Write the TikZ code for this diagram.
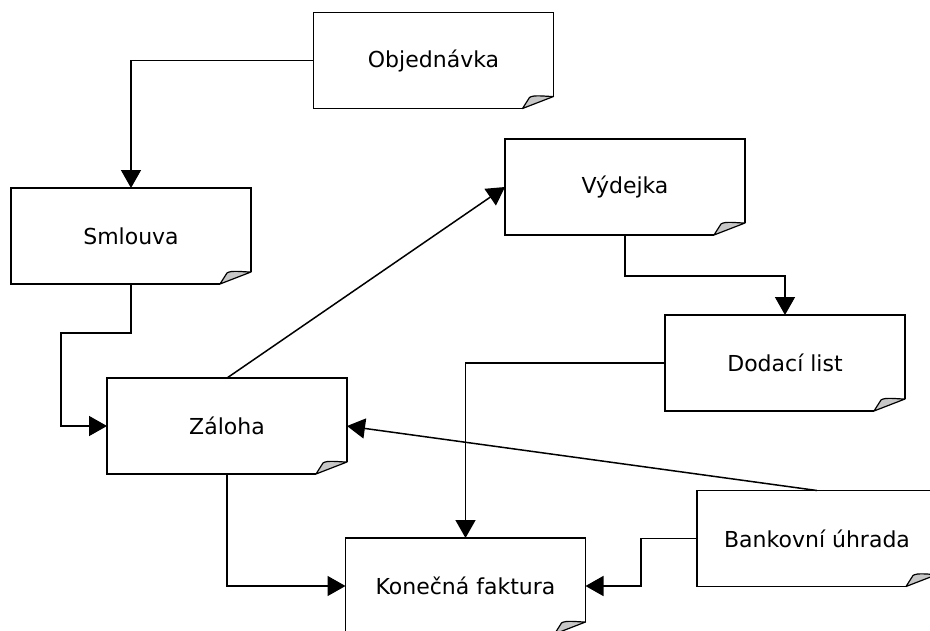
\documentclass[tikz,border=0pt]{standalone}
\usepackage{fontspec}
\setmainfont{DejaVu Sans}
\usetikzlibrary{calc,arrows.meta}
\tikzset{
  doc/.style={minimum width=240pt, minimum height=96pt, inner sep=0pt, outer sep=0pt,
    font=\fontsize{22}{26}\selectfont},
  outline/.style={line width=1.6pt, line join=miter},
  foldfill/.style={fill=black!22, draw=black, line width=1.2pt, line join=round},
  conn/.style={line width=1.5pt, -{Triangle[length=18pt,width=20pt]}},
}
\newcommand{\docoutline}[1]{%
  \draw[outline] ($(#1.south east)+(0,-12)$) -- (#1.north east) -- (#1.north west)
    -- (#1.south west) -- ($(#1.south east)+(-31,0)$);
  \draw[foldfill] ($(#1.south east)+(-31,0)$) -- ($(#1.south east)+(-24,-11)$)
    .. controls ($(#1.south east)+(-20,-14)$) and ($(#1.south east)+(-8,-12)$) ..
    ($(#1.south east)+(0,-12)$) -- cycle;
}
\begin{document}
\begin{tikzpicture}[x=1pt,y=-1pt]
  \fill[white] (0,0) rectangle (930,630);
  \useasboundingbox (0,0) rectangle (930,630);
  \clip (0,0) rectangle (930,630);

  \node[doc] (obj) at (433.5,60.5) {Objednávka};
  \node[doc] (sml) at (131,236) {Smlouva};
  \node[doc] (vyd) at (625,187) {Výdejka};
  \node[doc] (dod) at (785,363) {Dodací list};
  \node[doc] (zal) at (227,426) {Záloha};
  \node[doc] (ban) at (817,538.5) {Bankovní úhrada};
  \node[doc] (kon) at (465.5,586) {Konečná faktura};

  \foreach \n in {obj,sml,vyd,dod,zal,ban,kon}{\docoutline{\n}}

  \coordinate (b1) at (61,333);
  \coordinate (b2) at (625,276);
  \coordinate (b3) at (641,538.5);

  \draw[conn] (obj.west) -| (sml.north);
  \draw[conn] (sml.south) |- (b1) |- (zal.west);
  \draw[conn] (zal.north) -- (vyd.west);
  \draw[conn] (vyd.south) -- (b2) -| (dod.north);
  \draw[conn] (dod.west) -| (kon.north);
  \draw[conn] (ban.north) -- (zal.east);
  \draw[conn] (ban.west) -- (b3) |- (kon.east);
  \draw[conn] (zal.south) |- (kon.west);
\end{tikzpicture}
\end{document}
